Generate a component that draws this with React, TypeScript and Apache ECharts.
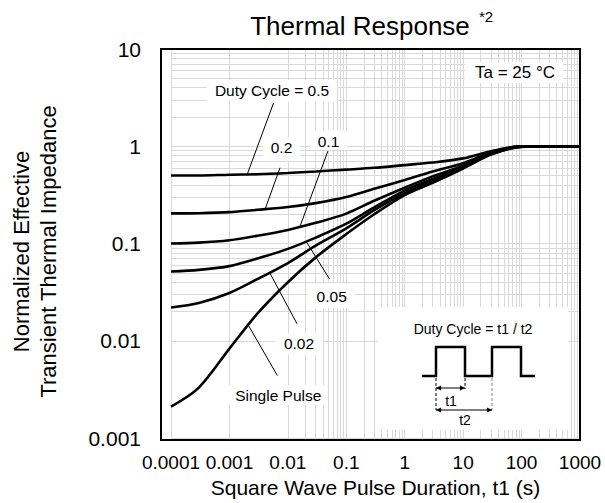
import React, { useEffect, useRef } from "react";
import * as echarts from "echarts";

// ---- data ----
const pulseDuration = [1e-4, 3e-4, 1e-3, 3e-3, 1e-2, 3e-2, 0.1, 0.3, 1, 3, 10, 30, 100, 300, 1000];
const duty05 = [0.5, 0.5, 0.51, 0.515, 0.53, 0.55, 0.575, 0.6, 0.64, 0.68, 0.75, 0.89, 1.0, 1.0, 1.0];
const duty02 = [0.204, 0.205, 0.21, 0.222, 0.237, 0.26, 0.3, 0.365, 0.45, 0.55, 0.67, 0.86, 1.0, 1.0, 1.0];
const duty01 = [0.1, 0.102, 0.108, 0.12, 0.138, 0.163, 0.203, 0.275, 0.375, 0.49, 0.63, 0.85, 1.0, 1.0, 1.0];
const duty005 = [0.0515, 0.0535, 0.0585, 0.07, 0.088, 0.115, 0.16, 0.235, 0.35, 0.46, 0.61, 0.84, 0.995, 1.0, 1.0];
const duty002 = [0.022, 0.0245, 0.031, 0.043, 0.063, 0.095, 0.143, 0.22, 0.33, 0.44, 0.6, 0.83, 0.99, 1.0, 1.0];
const singlePulse = [0.0021, 0.0033, 0.0083, 0.019, 0.04, 0.072, 0.125, 0.2, 0.315, 0.42, 0.59, 0.82, 0.985, 1.0, 1.0];

const xTickLabels = ["0.0001", "0.001", "0.01", "0.1", "1", "10", "100", "1000"];
const yTickLabels = ["0.001", "0.01", "0.1", "1", "10"];
const xDecades = [1e-4, 1e-3, 1e-2, 1e-1, 1, 10, 100];
const yDecades = [1e-3, 1e-2, 1e-1, 1];
const minorSteps = [2, 3, 4, 5, 6, 7, 8, 9];

// leader lines in data coordinates: [from, to]
const leader05 = [[0.00568, 2.78], [0.00203, 0.52]];
const leader02 = [[0.00735, 0.602], [0.00412, 0.229]];
const leader01 = [[0.0484, 0.89], [0.0162, 0.151]];
const leader005 = [[0.021, 0.103], [0.0514, 0.0433]];
const leader002 = [[0.005, 0.0488], [0.0143, 0.015]];
const leaderSingle = [[0.00203, 0.015], [0.00662, 0.00438]];

const FONT = "'Liberation Sans', Arial, sans-serif";

function pairs(ys: number[]) {
  return pulseDuration.map((x, i) => [x, ys[i]]);
}

function leaderMark(l: number[][]) {
  return {
    silent: true,
    z: 6,
    symbol: ["none", "none"],
    label: { show: false },
    lineStyle: { color: "#000", width: 1, type: "solid" },
    data: [[{ coord: l[0] }, { coord: l[1] }]],
  };
}

function curve(name: string, ys: number[], l: number[][]) {
  return {
    name,
    type: "line",
    data: pairs(ys),
    smooth: 0.3,
    showSymbol: false,
    symbol: "none",
    z: 4,
    lineStyle: { color: "#000", width: 2.6 },
    markLine: leaderMark(l),
  };
}

function labelBox(text: string, rx: number, ry: number, rw: number, rh: number, cx: number, cy: number, fs = 15.5) {
  return [
    { type: "rect", shape: { x: rx, y: ry, width: rw, height: rh }, style: { fill: "#fff" }, z: 10 },
    {
      type: "text",
      x: cx,
      y: cy,
      style: { text, fill: "#000", font: `${fs}px ${FONT}`, align: "center", verticalAlign: "middle" },
      z: 11,
    },
  ];
}

export default function App() {
  const ref = useRef<HTMLDivElement>(null);
  useEffect(() => {
    if (!ref.current) return;
    const chart = echarts.init(ref.current, undefined, { renderer: "svg" });

    const minorX: any[] = [];
    xDecades.forEach((d) => minorSteps.forEach((k) => minorX.push({ xAxis: d * k })));
    const minorY: any[] = [];
    yDecades.forEach((d) => minorSteps.forEach((k) => minorY.push({ yAxis: d * k })));

    const grid = "#d9d9d9";
    const arrow = (x1: number, y: number, x2: number) => [
      { type: "line", shape: { x1, y1: y, x2, y2: y }, style: { stroke: "#000", lineWidth: 1 }, z: 12 },
      { type: "polygon", shape: { points: [[x1, y], [x1 + 5, y - 2.5], [x1 + 5, y + 2.5]] }, style: { fill: "#000" }, z: 12 },
      { type: "polygon", shape: { points: [[x2, y], [x2 - 5, y - 2.5], [x2 - 5, y + 2.5]] }, style: { fill: "#000" }, z: 12 },
    ];

    const option: any = {
      animation: false,
      backgroundColor: "#fff",
      textStyle: { fontFamily: FONT },
      grid: { left: 161, right: 25, top: 49, bottom: 63, containLabel: false },
      xAxis: {
        type: "log",
        logBase: 10,
        min: 1e-4,
        max: 1000,
        splitNumber: 7,
        axisLine: { show: false },
        axisTick: { show: false },
        axisLabel: {
          color: "#000",
          fontSize: 19,
          fontFamily: FONT,
          margin: 15,
          showMinLabel: true,
          showMaxLabel: true,
          formatter: (v: number) => xTickLabels[Math.round(Math.log10(v)) + 4] ?? "",
        },
        splitLine: { show: true, lineStyle: { color: grid, width: 1 } },
        name: "Square Wave Pulse Duration, t1 (s)",
        nameLocation: "middle",
        nameGap: 39,
        nameMoveOverlap: false,
        nameTextStyle: { color: "#000", fontSize: 21, fontFamily: FONT },
      },
      yAxis: {
        type: "log",
        logBase: 10,
        min: 0.001,
        max: 10,
        splitNumber: 4,
        axisLine: { show: false },
        axisTick: { show: false },
        axisLabel: {
          color: "#000",
          fontSize: 21,
          fontFamily: FONT,
          margin: 30,
          showMinLabel: true,
          showMaxLabel: true,
          formatter: (v: number) => yTickLabels[Math.round(Math.log10(v)) + 3] ?? "",
        },
        splitLine: { show: true, lineStyle: { color: grid, width: 1 } },
        name: "Normalized Effective\nTransient Thermal Impedance",
        nameLocation: "middle",
        nameGap: 109,
        nameRotate: 90,
        nameTextStyle: { color: "#000", fontSize: 22, fontFamily: FONT, lineHeight: 27, padding: [0, 16, 0, 0] },
      },
      series: [
        {
          type: "line",
          data: [],
          z: 1,
          silent: true,
          markLine: {
            silent: true,
            z: 1,
            symbol: ["none", "none"],
            label: { show: false },
            lineStyle: { color: grid, width: 1, type: "solid" },
            data: [...minorX, ...minorY],
          },
        },
        curve("0.5", duty05, leader05),
        curve("0.2", duty02, leader02),
        curve("0.1", duty01, leader01),
        curve("0.05", duty005, leader005),
        curve("0.02", duty002, leader002),
        curve("Single Pulse", singlePulse, leaderSingle),
      ],
      graphic: [
        // plot frame
        { type: "rect", shape: { x: 161, y: 49, width: 419, height: 391 }, style: { fill: "none", stroke: "#000", lineWidth: 2 }, z: 20 },
        // title
        {
          type: "text",
          x: 360,
          y: 26,
          style: { text: "Thermal Response", fill: "#000", font: `26px ${FONT}`, align: "center", verticalAlign: "middle" },
          z: 11,
        },
        {
          type: "text",
          x: 486,
          y: 16,
          style: { text: "*2", fill: "#000", font: `15px ${FONT}`, align: "center", verticalAlign: "middle" },
          z: 11,
        },
        ...labelBox("Duty Cycle = 0.5", 207, 80, 130, 22, 272, 90.5),
        ...labelBox("0.2", 263, 137, 37, 24, 281.5, 147.5),
        ...labelBox("0.1", 310, 130, 37, 20, 328.5, 141.5),
        ...labelBox("0.05", 308, 283, 47, 25, 331.7, 296),
        ...labelBox("0.02", 275, 333, 48, 22, 299, 343.5),
        ...labelBox("Single Pulse", 228, 385, 100, 20, 278.3, 395),
        ...labelBox("Ta = 25 °C", 465, 62, 98, 21, 515, 72, 17),
        // inset
        { type: "rect", shape: { x: 378, y: 307, width: 190, height: 123 }, style: { fill: "#fff" }, z: 10 },
        {
          type: "text",
          x: 473,
          y: 328.5,
          style: { text: "Duty Cycle = t1 / t2", fill: "#000", font: `14px ${FONT}`, align: "center", verticalAlign: "middle" },
          z: 11,
        },
        {
          type: "polyline",
          shape: {
            points: [
              [422, 376], [436, 376], [436, 347], [465, 347], [465, 376],
              [492, 376], [492, 347], [521, 347], [521, 376], [535, 376],
            ],
          },
          style: { stroke: "#000", lineWidth: 2.5, fill: "none" },
          z: 12,
        },
        { type: "line", shape: { x1: 436, y1: 378, x2: 436, y2: 410 }, style: { stroke: "#000", lineWidth: 1, lineDash: [3, 2] }, z: 12 },
        { type: "line", shape: { x1: 465, y1: 378, x2: 465, y2: 389 }, style: { stroke: "#000", lineWidth: 1, lineDash: [3, 2] }, z: 12 },
        { type: "line", shape: { x1: 492, y1: 378, x2: 492, y2: 410 }, style: { stroke: "#888", lineWidth: 1, lineDash: [3, 2] }, z: 12 },
        ...arrow(436, 388, 465),
        ...arrow(436, 410, 492),
        {
          type: "text",
          x: 451,
          y: 401,
          style: { text: "t1", fill: "#000", font: `14px ${FONT}`, align: "center", verticalAlign: "middle" },
          z: 11,
        },
        {
          type: "text",
          x: 465,
          y: 419.5,
          style: { text: "t2", fill: "#000", font: `14px ${FONT}`, align: "center", verticalAlign: "middle" },
          z: 11,
        },
      ],
    };
    chart.setOption(option);
    return () => chart.dispose();
  }, []);
  return <div ref={ref} style={{ position: "fixed", left: 0, top: 0, width: 605, height: 503 }} />;
}
